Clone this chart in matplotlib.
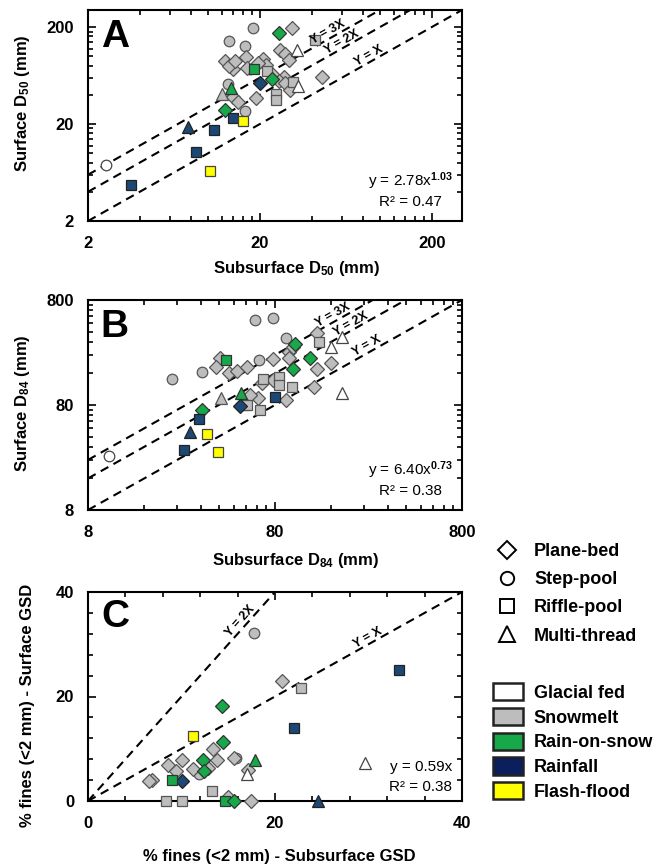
import numpy as np
import matplotlib
matplotlib.use('Agg')
import matplotlib.pyplot as plt
from matplotlib.lines import Line2D
from matplotlib.patches import Patch
from matplotlib.ticker import FixedLocator, NullFormatter

plt.rcParams['font.family'] = ['Liberation Sans', 'DejaVu Sans']
plt.rcParams['font.weight'] = 'bold'
plt.rcParams['mathtext.fontset'] = 'custom'
plt.rcParams['mathtext.rm'] = 'Liberation Sans'
plt.rcParams['mathtext.bf'] = 'Liberation Sans:bold'
plt.rcParams['mathtext.it'] = 'Liberation Sans:italic'

# ---------------- categories ----------------
shape_codes = ['PB', 'SP', 'RP', 'MT']
shape_labels = ['Plane-bed', 'Step-pool', 'Riffle-pool', 'Multi-thread']
climate_codes = ['GF', 'SM', 'RS', 'RF', 'FF']
climate_labels = ['Glacial fed', 'Snowmelt', 'Rain-on-snow', 'Rainfall', 'Flash-flood']

# ---------------- Panel A: D50 ----------------
a_sub = [18.2, 13.2, 16.4, 17.6, 13.0, 16.3,
         30.8, 12.6, 14.0, 13.3, 16.6, 20.8, 21.6, 26.3, 28.0, 29.5, 27.8, 26.0, 27.9, 29.8,
         46.1, 18.9, 14.0, 14.9, 14.3, 19.5, 16.8, 23.5,
         41.6, 22.1, 24.7, 24.7, 31.2,
         12.0,
         2.53, 33.0, 33.2,
         18.6, 13.5, 12.6, 25.8, 23.6,
         3.54, 7.62, 8.53, 10.8, 13.9, 20.1,
         10.3, 15.9]
a_surf = [197, 145, 129, 74, 51.9, 27.5,
          197, 88.9, 74, 80, 97.7, 94, 80.5, 115, 106, 91.8, 61.7, 56, 52.8, 44.4,
          61.7, 37, 37.7, 33.5, 90, 85, 75, 65,
          148, 70, 40.8, 35.4, 53.8,
          41,
          7.6, 116, 49.8,
          74.1, 46.7, 27.9, 173, 57.9,
          4.68, 18.8, 10.3, 17.3, 23.1, 52.6,
          6.58, 21.6]
a_shape = ['SP'] * 6 + ['PB'] * 22 + ['RP'] * 5 + ['MT'] + \
          ['SP', 'MT', 'MT'] + ['RP', 'MT', 'PB', 'PB', 'PB'] + \
          ['RP', 'MT', 'RP', 'RP', 'RP', 'PB'] + ['RP', 'RP']
a_clim = ['SM'] * 34 + ['GF'] * 3 + ['RS'] * 5 + ['RF'] * 6 + ['FF'] * 2

# ---------------- Panel B: D84 ----------------
b_sub = [22.6, 32.7, 62.4, 77.6, 91.8, 65.8,
         40.6, 38.6, 45.5, 50.2, 56.8, 78.2, 95.5, 134, 134, 159, 130, 92, 95.5, 78.3, 67.9, 64.5, 58.6, 100,
         138, 98.6, 83.8, 83.8, 69, 54.4, 66.2, 56.9,
         41.3,
         10.4, 182, 159, 182,
         43.7, 52.4, 32.4, 102, 122.7, 100,
         26.1, 28.1, 31.4, 80, 51.9,
         34.8, 39.8]
b_surf = [143, 164, 516, 542, 345, 214,
          223, 183, 162, 170, 183, 218, 258, 391, 175, 200, 119, 89, 223, 138, 129, 92.6, 100, 285,
          320, 118, 149, 124, 140, 80, 71.7, 80,
          92.6,
          26.3, 353, 287, 104,
          214, 105, 71.7, 302, 226, 176,
          29.8, 44.0, 58.4, 96, 79,
          42.3, 28.7]
b_shape = ['SP'] * 6 + ['PB'] * 18 + ['RP'] * 8 + ['MT'] + \
          ['SP', 'MT', 'MT', 'MT'] + ['RP', 'MT', 'PB', 'PB', 'PB', 'PB'] + \
          ['RP', 'MT', 'RP', 'RP', 'PB'] + ['RP', 'RP']
b_clim = ['SM'] * 33 + ['GF'] * 4 + ['RS'] * 6 + ['RF'] * 5 + ['FF'] * 2

# ---------------- Panel C: % fines ----------------
c_sub = [17.75, 11.9, 15.8,
         20.8, 13.4, 13.75, 10.1, 8.57, 9.46, 11.25, 12.86, 15.6, 17.1, 6.8, 6.5, 15.0, 17.4,
         22.75, 13.3, 8.3, 10.0,
         33.3, 22.0, 10.0, 24.6,
         14.36, 14.46, 12.25, 12.4, 17.9, 9.0, 14.6, 15.6,
         11.25,
         29.6, 17.0]
c_surf = [32.2, 5.2, 8.2,
          23.0, 9.9, 7.8, 7.9, 6.8, 5.7, 6.2, 6.4, 8.3, 5.9, 4.1, 3.8, 0.8, 0.0,
          21.7, 2.0, 0.0, 0.0,
          25.0, 14.0, 3.8, 0.0,
          18.2, 11.3, 7.9, 5.7, 7.8, 4.1, 0.0, 0.0,
          12.5,
          7.3, 5.2]
c_shape = ['SP'] * 3 + ['PB'] * 14 + ['RP'] * 4 + \
          ['RP', 'RP', 'PB', 'MT'] + ['PB', 'PB', 'PB', 'PB', 'MT', 'RP', 'RP', 'PB'] + \
          ['RP'] + ['MT', 'MT']
c_clim = ['SM'] * 21 + ['RF'] * 4 + ['RS'] * 8 + ['FF'] + ['GF'] * 2

# fit annotations
a_eq = ('2.78', '1.03', '0.47')
b_eq = ('6.40', '0.73', '0.38')
c_eq = ('0.59', '0.38')

# ---------------- styles ----------------
marker_of = {'PB': 'D', 'SP': 'o', 'RP': 's', 'MT': '^'}
msize_of = {'PB': 7.4, 'SP': 7.6, 'RP': 7.0, 'MT': 8.4}
legend_ms = {'PB': 9.6, 'SP': 9.6, 'RP': 10.0, 'MT': 11.0}
face_of = {'GF': '#ffffff', 'SM': '#bdbdbd', 'RS': '#17a84a', 'RF': '#1d4775', 'FF': '#ffff00'}
legend_face = {'GF': '#ffffff', 'SM': '#bdbdbd', 'RS': '#17a84a', 'RF': '#0b1f5e', 'FF': '#ffff00'}
edge_of = {'GF': '#444444', 'SM': '#555555', 'RS': '#333333', 'RF': '#222222', 'FF': '#444444'}

W, H = 666, 866
fig = plt.figure(figsize=(W / 100, H / 100), dpi=100)

def ax_rect(left, top, right, bottom):
    return [left / W, 1 - bottom / H, (right - left) / W, (bottom - top) / H]

axA = fig.add_axes(ax_rect(88, 10, 462, 221))
axB = fig.add_axes(ax_rect(88, 300, 462, 510))
axC = fig.add_axes(ax_rect(88, 592, 462, 801))

def scatter_points(ax, xs, ys, shapes, clims, clip=True):
    for x, y, s, c in zip(xs, ys, shapes, clims):
        ax.plot([x], [y], ls='none', marker=marker_of[s], ms=msize_of[s],
                mfc=face_of[c], mec=edge_of[c], mew=0.9, zorder=3, clip_on=clip)

def style_axes(ax):
    for sp in ax.spines.values():
        sp.set_linewidth(1.5)
        sp.set_color('black')
    ax.tick_params(which='both', direction='in', top=True, right=True,
                   width=1.2, colors='black', labelsize=12)
    ax.tick_params(which='major', length=6)
    ax.tick_params(which='minor', length=3.5)
    ax.tick_params(axis='x', pad=10.5)
    ax.tick_params(axis='y', pad=10)

dash = (0, (4.2, 2.8))

def line_angle(ax, x0, x1, k):
    p0 = ax.transData.transform((x0, k * x0))
    p1 = ax.transData.transform((x1, k * x1))
    return np.degrees(np.arctan2(p1[1] - p0[1], p1[0] - p0[0]))

def log_panel(ax, lo, hi, base, xs, ys, shapes, clims, xlabel, ylabel, letter,
              eq, label_x):
    ax.set_xscale('log')
    ax.set_yscale('log')
    ax.set_xlim(lo, hi)
    ax.set_ylim(lo, hi)
    majors = [base, base * 10, base * 100]
    minors = [base * k * 10 ** n for n in range(0, 3) for k in range(2, 10)]
    minors = [m for m in minors if m < hi]
    for axis in (ax.xaxis, ax.yaxis):
        axis.set_major_locator(FixedLocator(majors))
        axis.set_minor_locator(FixedLocator(minors))
        axis.set_minor_formatter(NullFormatter())
    ax.set_xticklabels([str(int(m)) for m in majors])
    ax.set_yticklabels([str(int(m)) for m in majors])
    style_axes(ax)
    xx = np.array([lo, hi])
    for k, txt, lx in zip([1, 2, 3], ['Y = X', 'Y = 2X', 'Y = 3X'], label_x):
        ax.plot(xx, k * xx, color='black', lw=1.5, ls=dash, zorder=2)
        ang = line_angle(ax, lo, hi, k)
        ax.text(lx, k * lx, txt, rotation=ang, rotation_mode='anchor',
                ha='center', va='bottom', fontsize=9, fontweight='bold', zorder=4)
    scatter_points(ax, xs, ys, shapes, clims)
    ax.set_xlabel(xlabel, fontsize=12, fontweight='bold', va='center')
    ax.set_ylabel(ylabel, fontsize=12, fontweight='bold', va='center')
    ax.text(0.072, 0.87, letter, transform=ax.transAxes, fontsize=28,
            fontweight='bold', ha='center', va='center')
    ax.text(0.862, 0.19, 'y = %sx$^{\\mathrm{%s}}$' % (eq[0], eq[1]), transform=ax.transAxes,
            fontsize=11, fontweight='normal', ha='center', va='center')
    ax.text(0.862, 0.092, 'R² = %s' % eq[2], transform=ax.transAxes,
            fontsize=11, fontweight='normal', ha='center', va='center')

log_panel(axA, 2, 300, 2, a_sub, a_surf, a_shape, a_clim,
          r'Subsurface D$_\mathbf{50}$ (mm)', r'Surface D$_\mathbf{50}$ (mm)', 'A',
          a_eq, [90, 62, 52])
log_panel(axB, 8, 800, 8, b_sub, b_surf, b_shape, b_clim,
          r'Subsurface D$_\mathbf{84}$ (mm)', r'Surface D$_\mathbf{84}$ (mm)', 'B',
          b_eq, [258, 210, 170])

axA.xaxis.set_label_coords((297 - 88) / 374, -(268 - 221) / 211)
axA.yaxis.set_label_coords((23 - 88) / 374, (221 - 103) / 211)
axB.xaxis.set_label_coords((296 - 88) / 374, -(560 - 510) / 210)
axB.yaxis.set_label_coords((23 - 88) / 374, (510 - 403) / 210)

# Panel C
axC.set_xlim(0, 40)
axC.set_ylim(0, 40)
axC.xaxis.set_major_locator(FixedLocator([0, 20, 40]))
axC.yaxis.set_major_locator(FixedLocator([0, 20, 40]))
axC.xaxis.set_minor_locator(FixedLocator(list(range(0, 41, 4))))
axC.yaxis.set_minor_locator(FixedLocator(list(range(0, 41, 4))))
style_axes(axC)
xc = np.array([0, 40])
axC.plot(xc, xc, color='black', lw=1.5, ls=dash, zorder=2)
xc2 = np.array([0, 20])
axC.plot(xc2, 2 * xc2, color='black', lw=1.5, ls=dash, zorder=2)
angX = line_angle(axC, 0, 40, 1)
ang2 = line_angle(axC, 0, 20, 2)
axC.text(30.2, 30.2, 'Y = X', rotation=angX, rotation_mode='anchor',
         ha='center', va='bottom', fontsize=9, fontweight='bold')
axC.text(16.8, 33.6, 'Y = 2X', rotation=ang2, rotation_mode='anchor',
         ha='center', va='bottom', fontsize=9, fontweight='bold')
scatter_points(axC, c_sub, c_surf, c_shape, c_clim, clip=False)
axC.set_xlabel('% fines (<2 mm) - Subsurface GSD', fontsize=12, fontweight='bold', va='center')
axC.set_ylabel('% fines (<2 mm) - Surface GSD', fontsize=12, fontweight='bold', va='center')
axC.xaxis.set_label_coords((279 - 88) / 374, -(857 - 801) / 209)
axC.yaxis.set_label_coords((28 - 88) / 374, (801 - 705) / 209)
axC.text(0.072, 0.88, 'C', transform=axC.transAxes, fontsize=28,
         fontweight='bold', ha='center', va='center')
axC.text(0.89, 0.163, 'y = %sx' % c_eq[0], transform=axC.transAxes,
         fontsize=11, fontweight='normal', ha='center', va='center')
axC.text(0.89, 0.067, 'R² = %s' % c_eq[1], transform=axC.transAxes,
         fontsize=11, fontweight='normal', ha='center', va='center')

# Legends
shape_handles = [Line2D([], [], ls='none', marker=marker_of[c], ms=legend_ms[c],
                        mfc='white', mec='black', mew=1.4) for c in shape_codes]
leg1 = fig.legend(shape_handles, shape_labels, loc='upper left',
                  bbox_to_anchor=(497 / W, 1 - 543 / H), frameon=False,
                  prop={'size': 13, 'weight': 'bold'}, handlelength=1.1,
                  handletextpad=0.95, labelspacing=0.62, borderpad=0, borderaxespad=0)
clim_handles = [Patch(facecolor=legend_face[c], edgecolor='#222222', lw=1.8)
                for c in climate_codes]
leg2 = fig.legend(clim_handles, climate_labels, loc='upper left',
                  bbox_to_anchor=(493 / W, 1 - 683 / H), frameon=False,
                  prop={'size': 13, 'weight': 'bold'}, handlelength=1.65,
                  handleheight=1.1, handletextpad=0.6, labelspacing=0.33,
                  borderpad=0, borderaxespad=0)

fig.savefig('out.png', dpi=100)
